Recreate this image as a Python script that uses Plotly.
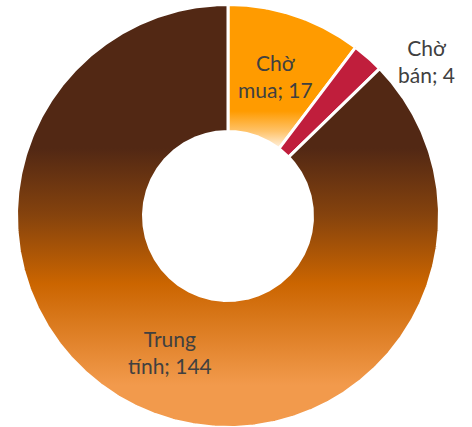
import numpy as np
import plotly.graph_objects as go

# ---- data ----
labels = ["Chờ mua", "Chờ bán", "Trung tính"]
values = [17, 4, 144]

# ---- style ----
gradients = [
    [[0.0, "#FFF4E6"], [0.12, "#FFC36A"], [0.26, "#FF9B00"], [1.0, "#FF9B00"]],
    None,
    [[0.0, "#F29A4C"], [0.10, "#F29A4C"], [0.34, "#CB6500"], [0.50, "#86430D"],
     [0.66, "#522814"], [1.0, "#522814"]],
]
solid = ["#FF9B00", "#C01E3C", "#6A3A14"]
W, H = 472, 427
cx, cy = 228, H - 216
R_out, R_in = 211.5, 84.5
TEXT = "#404040"
FONT = "Lato"
FSIZE = 21

fig = go.Figure()
total = sum(values)
start = 0.0
mids = []
for i, (lab, v) in enumerate(zip(labels, values)):
    end = start + v / total * 360.0
    n = max(int((end - start) * 2), 8)
    a1 = np.radians(np.linspace(start, end, n))
    a2 = a1[::-1]
    xs = np.concatenate([cx + R_out * np.sin(a1), cx + R_in * np.sin(a2)])
    ys = np.concatenate([cy + R_out * np.cos(a1), cy + R_in * np.cos(a2)])
    xs = np.append(xs, xs[0])
    ys = np.append(ys, ys[0])
    tr = dict(x=xs, y=ys, mode="lines", fill="toself",
              line=dict(color="white", width=3), fillcolor=solid[i],
              hoverinfo="text", text=f"{lab}; {v}", showlegend=False)
    if gradients[i] is not None:
        tr["fillgradient"] = dict(type="vertical", colorscale=gradients[i])
    fig.add_trace(go.Scatter(**tr))
    mids.append((start + end) / 2)
    start = end

# labels
r_mid = (R_out + R_in) / 2
for i, (lab, v) in enumerate(zip(labels, values)):
    a = np.radians(mids[i])
    words = lab.split(" ")
    txt = f"{words[0]}<br>{' '.join(words[1:])}; {v}"
    if i == 1:
        x = cx + R_out * np.sin(a)
        y = cy + R_out * np.cos(a)
        fig.add_annotation(x=x, y=y, text=txt, showarrow=False,
                           xanchor="center", yanchor="middle",
                           xshift=58, yshift=-4,
                           font=dict(family=FONT, size=FSIZE, color=TEXT))
    else:
        x = cx + r_mid * np.sin(a)
        y = cy + r_mid * np.cos(a)
        fig.add_annotation(x=x, y=y, text=txt, showarrow=False,
                           xanchor="center", yanchor="middle",
                           font=dict(family=FONT, size=FSIZE, color=TEXT))

fig.update_layout(
    width=W, height=H, margin=dict(l=0, r=0, t=0, b=0),
    paper_bgcolor="white", plot_bgcolor="white",
    xaxis=dict(range=[0, W], visible=False, fixedrange=True),
    yaxis=dict(range=[0, H], visible=False, fixedrange=True),
    showlegend=False,
)
fig.write_html("out.html", config={"displayModeBar": False},
               post_script="document.body.style.margin='0';")
